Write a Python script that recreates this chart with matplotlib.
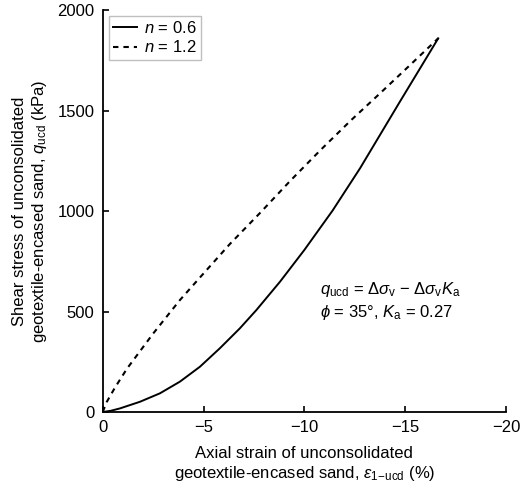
import matplotlib
matplotlib.use("Agg")
import matplotlib.pyplot as plt

plt.rcParams['font.family'] = ['Liberation Sans', 'DejaVu Sans']
plt.rcParams['mathtext.fontset'] = 'custom'
plt.rcParams['mathtext.rm'] = 'Liberation Sans'
plt.rcParams['mathtext.it'] = 'Liberation Sans:italic'
plt.rcParams['mathtext.bf'] = 'Liberation Sans:bold'

# strain (%) and shear stress (kPa)
strain_n06 = [0, -0.4, -0.86, -1.85, -2.84, -3.83, -4.82, -5.81, -6.8, -7.62, -8.8, -10.0,
              -11.4, -12.76, -13.75, -14.74, -15.7, -16.64]
stress_n06 = [0, 6, 18, 51, 93, 151, 225, 317, 416, 507, 649, 806,
              1002, 1212, 1378, 1544, 1703, 1859]

strain_n12 = [0, -0.2, -0.6, -1.2, -2.5, -3.83, -4.83, -6.3, -7.8, -9.3, -10.8, -12.3,
              -13.75, -15.2, -16.64]
stress_n12 = [0, 50, 120, 215, 390, 557, 670, 835, 990, 1150, 1303, 1450,
              1585, 1722, 1859]

xticks = [0, -5, -10, -15, -20]
yticks = [0, 500, 1000, 1500, 2000]

fig = plt.figure(figsize=(5.2, 4.93), dpi=100)
ax = fig.add_axes([0.1975, 0.1643, 0.7755, 0.8154])

ax.plot(strain_n06, stress_n06, color='black', lw=1.4, ls='-', label='$n$ = 0.6')
ax.plot(strain_n12, stress_n12, color='black', lw=1.5, ls=(0, (2.6, 2.4)), label='$n$ = 1.2')

ax.set_xlim(0, -20)
ax.set_ylim(0, 2000)
ax.set_xticks(xticks)
ax.set_yticks(yticks)
ax.tick_params(direction='in', length=4, width=1.2, labelsize=12, pad=6)
ax.spines['top'].set_visible(False)
ax.spines['right'].set_visible(False)
ax.spines['left'].set_linewidth(1.3)
ax.spines['bottom'].set_linewidth(1.3)

ax.set_xlabel('Axial strain of unconsolidated\ngeotextile-encased sand, $\\varepsilon_{\\mathrm{1\\!\u2212\\!ucd}}$ (%)',
              fontsize=12, labelpad=8)
ax.set_ylabel('Shear stress of unconsolidated\ngeotextile-encased sand, $q_{\\mathrm{ucd}}$ (kPa)',
              fontsize=12, labelpad=6)

ax.text(-10.77, 607, '$q_{\\mathrm{ucd}}$ = $\\Delta\\sigma_{\\mathrm{v}}$ \u2212 $\\Delta\\sigma_{\\mathrm{v}}K_{\\mathrm{a}}$',
        fontsize=12, va='center', ha='left')
ax.text(-10.77, 493, '$\\phi$ = 35\u00b0, $K_{\\mathrm{a}}$ = 0.27',
        fontsize=12, va='center', ha='left')

leg = ax.legend(loc='upper left', fontsize=12, frameon=True, fancybox=False,
                handlelength=1.45, handletextpad=0.45, borderpad=0.25,
                labelspacing=0.2, borderaxespad=0.35)
leg.get_frame().set_edgecolor('#b0b0b0')
leg.get_frame().set_linewidth(1.0)

fig.savefig('out.png', dpi=100)
